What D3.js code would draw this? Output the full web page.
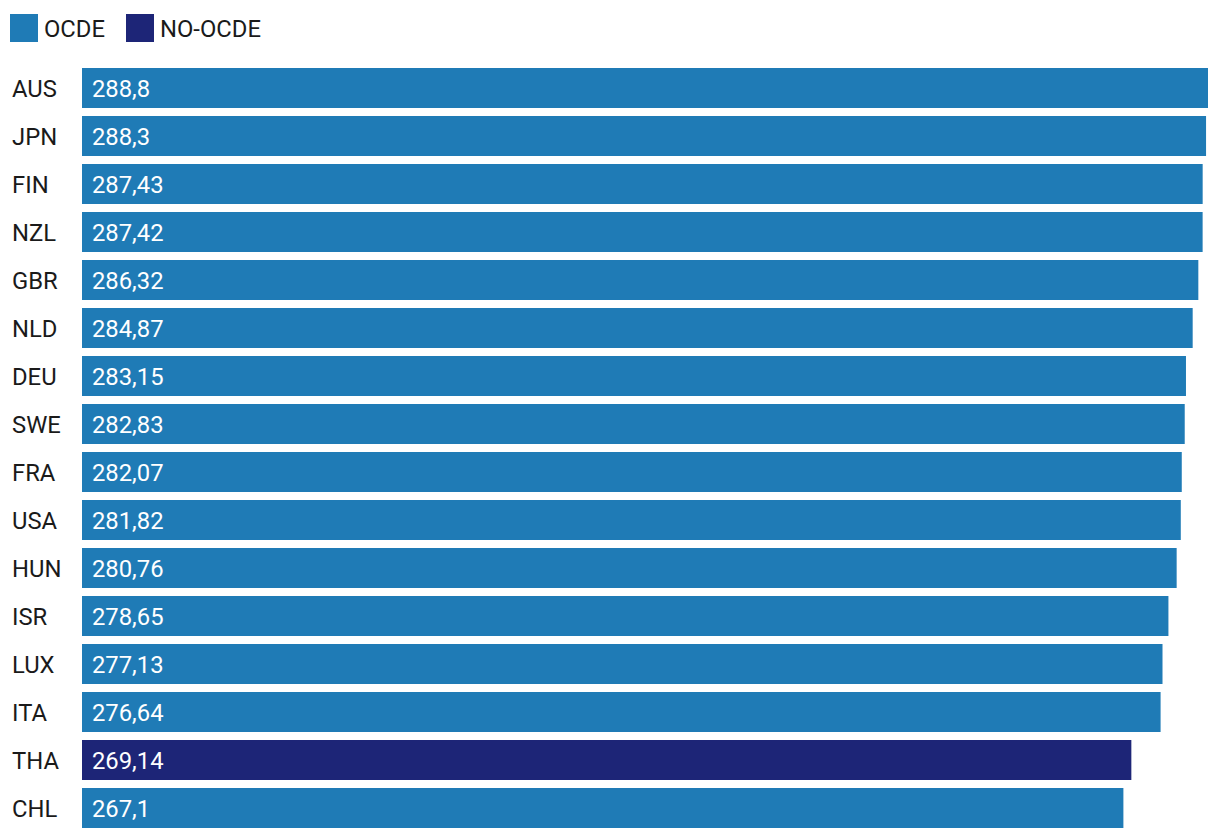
<!DOCTYPE html>
<html>
<head>
<meta charset="utf-8">
<script src="https://cdn.jsdelivr.net/npm/d3@7"></script>
<style>
html,body{margin:0;padding:0;background:#fff;}
svg{display:block;font-family:Roboto, sans-serif;}
</style>
</head>
<body>
<svg id="chart" width="1220" height="840"></svg>
<script>
const countries = ["AUS","JPN","FIN","NZL","GBR","NLD","DEU","SWE","FRA","USA","HUN","ISR","LUX","ITA","THA","CHL"];
const values = [288.8,288.3,287.43,287.42,286.32,284.87,283.15,282.83,282.07,281.82,280.76,278.65,277.13,276.64,269.14,267.1];
const groups = ["OCDE","OCDE","OCDE","OCDE","OCDE","OCDE","OCDE","OCDE","OCDE","OCDE","OCDE","OCDE","OCDE","OCDE","NO-OCDE","OCDE"];
const labels = ["288,8","288,3","287,43","287,42","286,32","284,87","283,15","282,83","282,07","281,82","280,76","278,65","277,13","276,64","269,14","267,1"];
const legendKeys = ["OCDE","NO-OCDE"];
const legendColors = ["#1f7bb6","#1d2577"];

const data = countries.map((c,i)=>({c, v:values[i], g:groups[i], l:labels[i]}));
const svg = d3.select("#chart");
const color = d3.scaleOrdinal().domain(legendKeys).range(legendColors);
const x = d3.scaleLinear().domain([0, d3.max(values)]).range([82, 1208]);
const y = d3.scaleBand().domain(countries).range([64, 832]).paddingInner(1/6).paddingOuter(1/12);

svg.selectAll("rect.bar").data(data).join("rect")
  .attr("class","bar")
  .attr("x", x(0)).attr("y", d=>y(d.c))
  .attr("width", d=>x(d.v)-x(0)).attr("height", y.bandwidth())
  .attr("fill", d=>color(d.g));

svg.selectAll("text.cat").data(data).join("text")
  .attr("class","cat")
  .attr("x", 12).attr("y", d=>y(d.c)+y.bandwidth()/2)
  .attr("dy","0.36em")
  .attr("font-size", 23.8).attr("fill","#1a1a1a")
  .text(d=>d.c);

svg.selectAll("text.val").data(data).join("text")
  .attr("class","val")
  .attr("x", x(0)+10).attr("y", d=>y(d.c)+y.bandwidth()/2)
  .attr("dy","0.36em")
  .attr("font-size", 23.8).attr("fill","#fff")
  .text(d=>d.l);

const lg = svg.append("g");
const lx = [10, 126];
legendKeys.forEach((k,i)=>{
  lg.append("rect").attr("x", lx[i]).attr("y", 14).attr("width", 28).attr("height", 28).attr("fill", color(k));
  lg.append("text").attr("x", lx[i]+34).attr("y", 28).attr("dy","0.36em")
    .attr("font-size", 23.8).attr("fill","#1a1a1a").text(k);
});
</script>
</body>
</html>
